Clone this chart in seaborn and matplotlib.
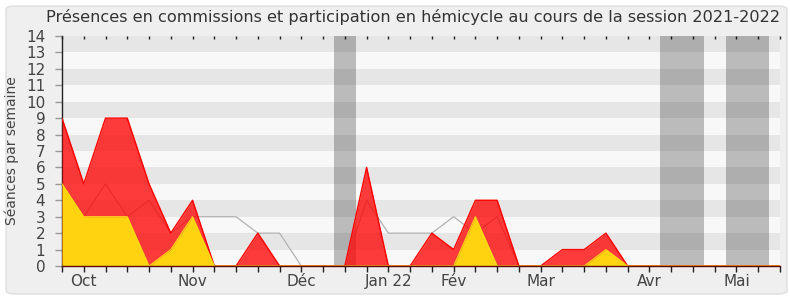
import numpy as np
import pandas as pd
import matplotlib
matplotlib.use("Agg")
import matplotlib.pyplot as plt
from matplotlib.patches import FancyBboxPatch
import seaborn as sns

# ---- data (weekly, session 2021-2022) ----
weeks = list(range(34))
commissions = [9, 5, 9, 9, 5, 2, 4, 0, 0, 2, 0, 0, 0, 0, 6, 0, 0, 2, 1, 4, 4, 0,
               0, 1, 1, 2, 0, 0, 0, 0, 0, 0, 0, 0]
hemicycle = [5, 3, 3, 3, 0, 1, 3, 0, 0, 0, 0, 0, 0, 0, 0, 0, 0, 0, 0, 3, 0, 0,
             0, 0, 0, 1, 0, 0, 0, 0, 0, 0, 0, 0]
median_line = [5, 3, 5, 3, 4, 2, 3, 3, 3, 2, 2, 0, 0, 0, 4, 2, 2, 2, 3, 2, 3, 0,
               0, 0, 0, 0, 0, 0, 0, 0, 0, 0, 0, 0]
vacations = [(12.5, 13.5), (27.5, 29.5), (30.5, 32.5)]
month_ticks = [1, 6, 11, 15, 18, 22, 27, 31]
month_labels = ["Oct", "Nov", "Déc", "Jan 22", "Fév", "Mar", "Avr", "Mai"]
title = "Présences en commissions et participation en hémicycle au cours de la session 2021-2022"
ylabel = "Séances par semaine"

df = pd.DataFrame({"week": weeks, "commissions": commissions,
                   "hemicycle": hemicycle, "median": median_line})

sns.set_theme(style="white")
plt.rcParams['font.family'] = ['DejaVu Sans']

W, H = 790, 300
fig = plt.figure(figsize=(W / 100, H / 100), dpi=100)
fig.patch.set_facecolor("white")
panel = FancyBboxPatch((6 / W, 6 / H), (781 / W), (288 / H),
                       boxstyle="round,pad=0,rounding_size=0.012",
                       transform=fig.transFigure, facecolor="#efefef",
                       edgecolor="#dedede", linewidth=1.0, zorder=-10)
fig.patches.append(panel)

ax = fig.add_axes([62 / W, 1 - 266 / H, (780 - 62) / W, (266 - 36) / H])
ax.set_facecolor("#f8f8f8")

# horizontal alternating bands
for k in range(1, 14, 2):
    ax.axhspan(k, k + 1, color="#e6e6e6", lw=0, zorder=0)

# vacation bands
for a, b in vacations:
    ax.axvspan(a, b, color="black", alpha=0.245, lw=0, zorder=1)

# gray line (behind)
sns.lineplot(data=df, x="week", y="median", ax=ax, color="#b2b2b2",
             linewidth=0.9, zorder=2, legend=False)
# red area
ax.fill_between(df["week"], 0, df["commissions"], color="#ff0000", alpha=0.76,
                lw=0, zorder=3)
sns.lineplot(data=df, x="week", y="commissions", ax=ax, color="#ff0000",
             linewidth=1.0, zorder=4, legend=False)
# yellow area
ax.fill_between(df["week"], 0, df["hemicycle"], color="#ffd30f", lw=0, zorder=5)
sns.lineplot(data=df, x="week", y="hemicycle", ax=ax, color="#ffdc14",
             linewidth=0.8, zorder=6, legend=False)

ax.set_xlim(0, 33)
ax.set_ylim(0, 14)
ax.set_yticks(range(0, 15))
ax.set_xticks(weeks)
labels = [""] * len(weeks)
for t, l in zip(month_ticks, month_labels):
    labels[t] = l
ax.set_xticklabels(labels)
ax.tick_params(axis="x", which="major", bottom=True, top=True, length=4,
               width=1, color="#222222", pad=2, labelsize=11, labelcolor="#444444",
               direction="out")
ax.tick_params(axis="y", left=True, length=5, width=1, color="#999999",
               pad=7, labelsize=11, labelcolor="#444444")
# bottom ticks longer than top ones
for tl in ax.xaxis.get_major_ticks():
    tl.tick1line.set_markersize(4)
    tl.tick2line.set_markersize(2)
    tl.tick2line.set_marker(3)

ax.set_xlabel("")
ax.set_ylabel(ylabel, fontsize=10, color="#444444", labelpad=5)
for s in ["top", "right"]:
    ax.spines[s].set_visible(False)
ax.spines["left"].set_color("#222222")
ax.spines["left"].set_linewidth(1)
ax.spines["bottom"].set_color("#5a0a0a")
ax.spines["bottom"].set_linewidth(1)
ax.spines["bottom"].set_zorder(7)

fig.text(0.5 * (45 + 782) / W, 1 - 17 / H, title, ha="center", va="center",
         fontsize=11.6, color="#333333")

fig.savefig("out.png", dpi=100, facecolor=fig.get_facecolor())
